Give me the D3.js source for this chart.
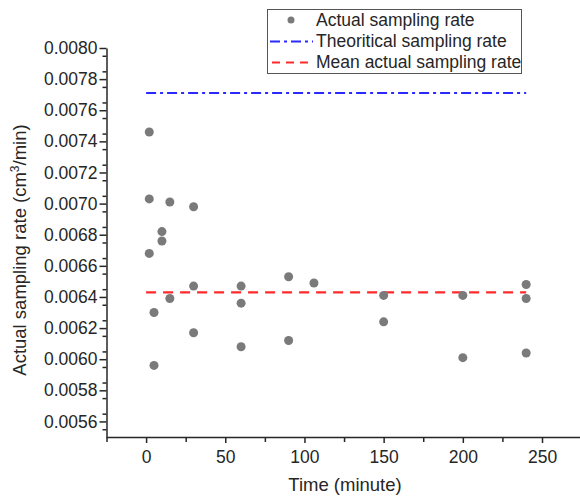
<!DOCTYPE html>
<html>
<head>
<meta charset="utf-8">
<script src="https://cdn.jsdelivr.net/npm/d3@7"></script>
<style>
  html, body { margin: 0; padding: 0; background: #fff; }
  svg { display: block; font-family: "Liberation Sans", Arial, sans-serif; }
</style>
</head>
<body>
<div id="chart"></div>
<script>
// Sampling data (time in minutes, rate in cm3/min)
const times = [2, 2, 2, 5, 5, 10, 10, 15, 15, 30, 30, 30, 60, 60, 60, 90, 90, 106, 150, 150, 200, 200, 240, 240, 240];
const rates = [0.00746, 0.00703, 0.00668, 0.00630, 0.00596, 0.00682, 0.00676, 0.00701, 0.00639,
               0.00698, 0.00647, 0.00617, 0.00647, 0.00636, 0.00608, 0.00653, 0.00612, 0.00649,
               0.00641, 0.00624, 0.00641, 0.00601, 0.00648, 0.00639, 0.00604];
const theoreticalRate = 0.00771;
const meanRate = 0.00643;
const lineSpan = [0, 240];
const xTicks = [0, 50, 100, 150, 200, 250];
const yTicks = [0.0056, 0.0058, 0.0060, 0.0062, 0.0064, 0.0066, 0.0068, 0.0070, 0.0072, 0.0074, 0.0076, 0.0078, 0.0080];
const legendLabels = ['Actual sampling rate', 'Theoritical sampling rate', 'Mean actual sampling rate'];

const W = 580, H = 496;
const svg = d3.select('#chart').append('svg')
    .attr('width', W)
    .attr('height', H);

// Scales
const x = d3.scaleLinear().domain([-25, 275]).range([106.5, 581.6]);
const y = d3.scaleLinear().domain([0.0055, 0.0080]).range([437, 48]);

const axisColor = '#262626';

// Left axis with minor ticks
const yMinor = d3.range(0.00555, 0.0080, 0.0001).map(v => +v.toFixed(5)).filter(v => !yTicks.some(t => Math.abs(t - v) < 1e-7));
svg.append('g')
    .attr('transform', `translate(${x(-25)},0)`)
    .call(d3.axisLeft(y).tickValues(yMinor).tickSize(4).tickFormat(''))
    .call(g => g.select('.domain').remove());
const yAxis = svg.append('g')
    .attr('class', 'y-axis')
    .attr('transform', `translate(${x(-25)},0)`)
    .call(d3.axisLeft(y).tickValues(yTicks).tickSize(7).tickPadding(2).tickFormat(d3.format('.4f')).tickSizeOuter(0));
yAxis.selectAll('text').style('font-size', '17.5px').style('fill', axisColor);

// Bottom axis with minor ticks
const xMinor = [-25, 25, 75, 125, 175, 225, 275];
svg.append('g')
    .attr('transform', `translate(0,${y(0.0055)})`)
    .call(d3.axisBottom(x).tickValues(xMinor).tickSize(5).tickFormat(''))
    .call(g => g.select('.domain').remove());
const xAxis = svg.append('g')
    .attr('class', 'x-axis')
    .attr('transform', `translate(0,${y(0.0055)})`)
    .call(d3.axisBottom(x).tickValues(xTicks).tickSize(6).tickPadding(8).tickSizeOuter(0));
xAxis.selectAll('text').style('font-size', '17.5px').style('fill', axisColor);

svg.selectAll('.domain, .tick line')
    .style('stroke', axisColor)
    .style('stroke-width', 1.5);

// Axis labels
svg.append('text')
    .attr('x', 345)
    .attr('y', 491)
    .attr('text-anchor', 'middle')
    .style('font-size', '18.5px')
    .style('fill', axisColor)
    .text('Time (minute)');

const yLabel = svg.append('text')
    .attr('transform', 'translate(26,250) rotate(-90)')
    .attr('text-anchor', 'middle')
    .style('font-size', '18.5px')
    .style('fill', axisColor);
yLabel.append('tspan').text('Actual sampling rate (cm');
yLabel.append('tspan').attr('dy', -7).style('font-size', '12px').text('3');
yLabel.append('tspan').attr('dy', 7).text('/min)');

// Reference lines
const line = d3.line().x(d => x(d[0])).y(d => y(d[1]));
svg.append('path')
    .datum(lineSpan.map(t => [t, theoreticalRate]))
    .attr('d', line)
    .style('stroke', '#2a2aff')
    .style('stroke-width', 2)
    .style('stroke-dasharray', '10 4 3 4')
    .style('fill', 'none');

svg.append('path')
    .datum(lineSpan.map(t => [t, meanRate]))
    .attr('d', line)
    .style('stroke', '#ff2a2a')
    .style('stroke-width', 2.2)
    .style('stroke-dasharray', '10 7')
    .style('fill', 'none');

// Points
svg.selectAll('.dot')
    .data(times.map((t, i) => ({ t, r: rates[i] })))
    .enter().append('circle')
    .attr('class', 'dot')
    .attr('cx', d => x(d.t))
    .attr('cy', d => y(d.r))
    .attr('r', 4.5)
    .style('fill', '#7a7a7a');

// Legend
const legend = svg.append('g').attr('class', 'legend');
legend.append('rect')
    .attr('x', 267.5)
    .attr('y', 9.5)
    .attr('width', 254)
    .attr('height', 64)
    .style('fill', '#fff')
    .style('stroke', '#555')
    .style('stroke-width', 1);

legend.append('circle')
    .attr('cx', 291)
    .attr('cy', 20)
    .attr('r', 3.5)
    .style('fill', '#7a7a7a');
legend.append('line')
    .attr('x1', 270).attr('x2', 313)
    .attr('y1', 41.5).attr('y2', 41.5)
    .style('stroke', '#2a2aff')
    .style('stroke-width', 2)
    .style('stroke-dasharray', '10 4 3 4');
legend.append('line')
    .attr('x1', 272).attr('x2', 313)
    .attr('y1', 62.5).attr('y2', 62.5)
    .style('stroke', '#ff2a2a')
    .style('stroke-width', 2)
    .style('stroke-dasharray', '8 6');

legend.selectAll('.legend-text')
    .data(legendLabels)
    .enter().append('text')
    .attr('class', 'legend-text')
    .attr('x', 316)
    .attr('y', (d, i) => 26 + i * 21)
    .style('font-size', '17.5px')
    .style('fill', axisColor)
    .text(d => d);
</script>
</body>
</html>
